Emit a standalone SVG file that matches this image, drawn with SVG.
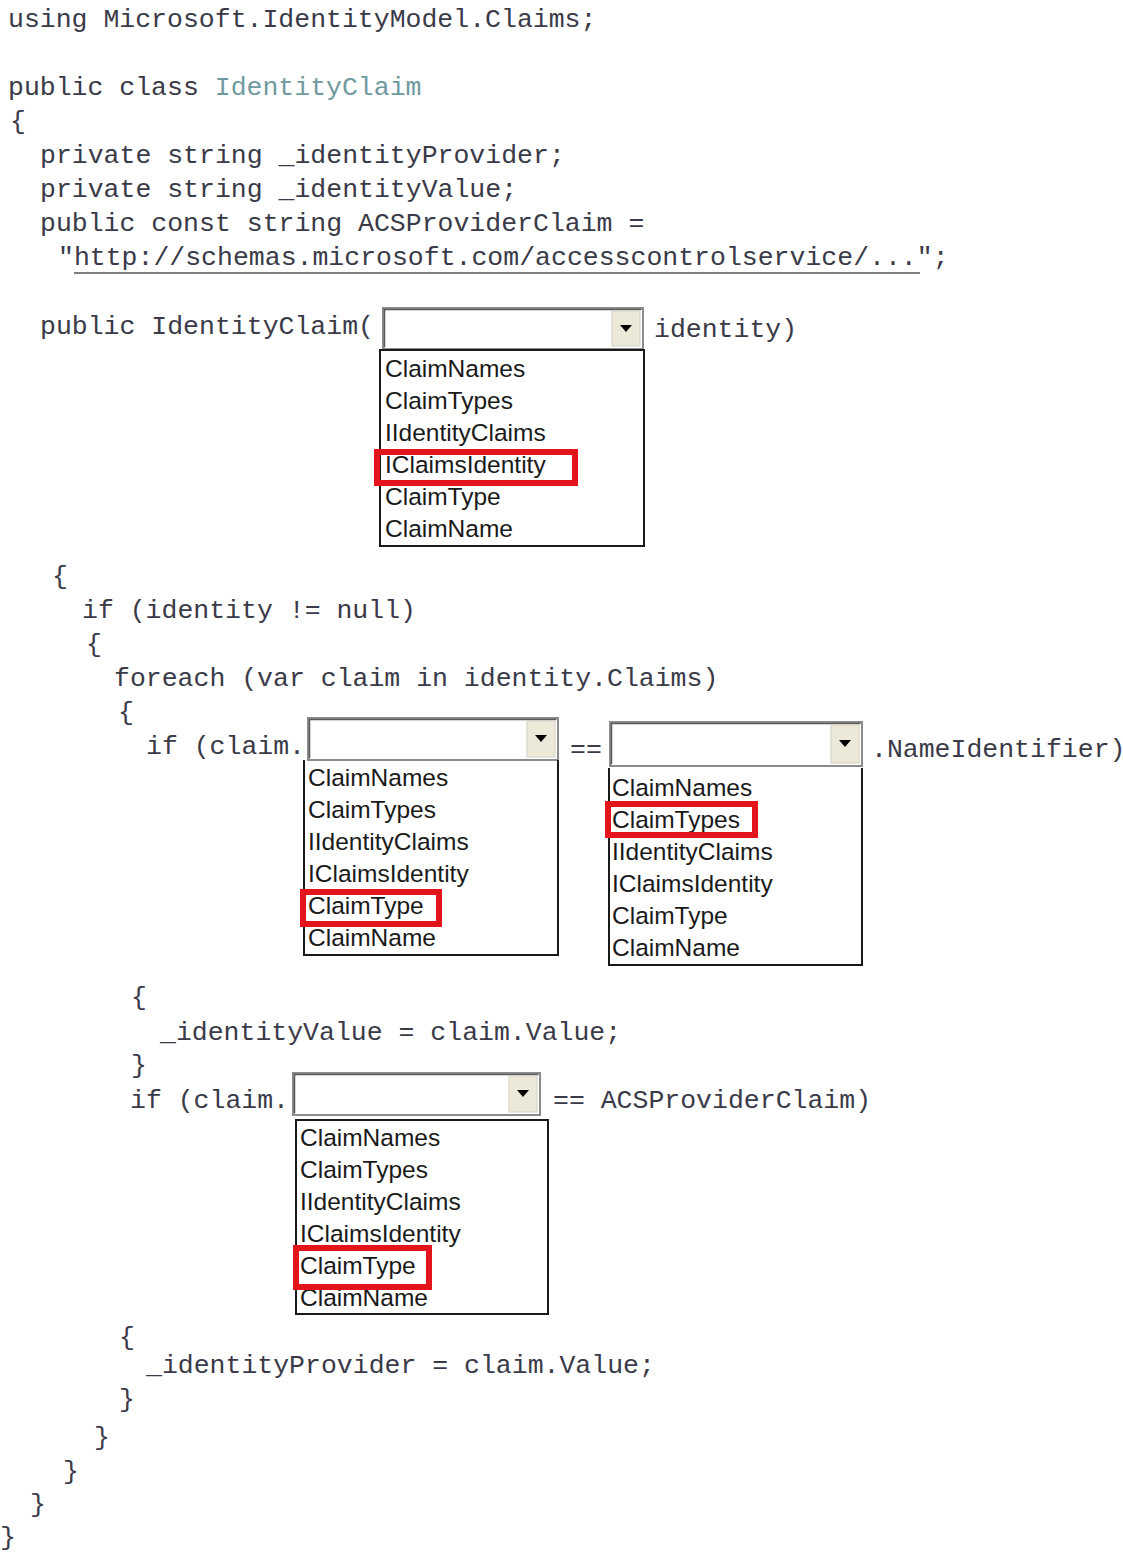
<svg xmlns="http://www.w3.org/2000/svg" width="1123" height="1553" viewBox="0 0 1123 1553">
<style>
.code{font-family:"Liberation Mono","Courier New",monospace;font-size:26.5px;fill:#3a3a48;}
.cls{fill:#6f9aa0;}
.item{font-family:"Liberation Sans",Arial,sans-serif;font-size:24.5px;fill:#1a1a1a;}
.list{fill:#fff;stroke:#1a1a1a;stroke-width:2;}
.listopen{fill:none;stroke:#1a1a1a;stroke-width:2;}
.ddbox{fill:#fff;stroke:#8c8c8c;stroke-width:2;}
.ddhi{fill:none;stroke:#5a5a5a;stroke-width:1.5;}
.btn{fill:#ece9d8;stroke:#d4d0c8;stroke-width:1;}
.tri{fill:#000;}
.hl{fill:none;stroke:#e3141c;stroke-width:6;}
</style>
<defs>
<polygon id="arrow" points="-6,-3 6,-3 0,4"/>
</defs>
<rect width="1123" height="1553" fill="#fff"/>

<g id="code">
<text class="code" x="8" y="27">using Microsoft.IdentityModel.Claims;</text>
<text class="code" x="8" y="95">public class <tspan class="cls">IdentityClaim</tspan></text>
<text class="code" x="10" y="129">{</text>
<text class="code" x="40" y="163">private string _identityProvider;</text>
<text class="code" x="40" y="197">private string _identityValue;</text>
<text class="code" x="40" y="231">public const string ACSProviderClaim =</text>
<text class="code" x="58" y="265">"http://schemas.microsoft.com/accesscontrolservice/...";</text>
<line x1="74" y1="273" x2="920" y2="273" stroke="#555" stroke-width="1.5"/>
<text class="code" x="40" y="334">public IdentityClaim(</text>
<text class="code" x="654" y="337">identity)</text>
<text class="code" x="52" y="584">{</text>
<text class="code" x="82" y="618">if (identity != null)</text>
<text class="code" x="86" y="652">{</text>
<text class="code" x="114" y="686">foreach (var claim in identity.Claims)</text>
<text class="code" x="118" y="720">{</text>
<text class="code" x="146" y="754">if (claim.</text>
<text class="code" x="570" y="757">==</text>
<text class="code" x="871" y="757">.NameIdentifier)</text>
<text class="code" x="131" y="1005">{</text>
<text class="code" x="160" y="1040">_identityValue = claim.Value;</text>
<text class="code" x="131" y="1073">}</text>
<text class="code" x="130" y="1108">if (claim.</text>
<text class="code" x="553" y="1108">== ACSProviderClaim)</text>
<text class="code" x="119" y="1345">{</text>
<text class="code" x="146" y="1373">_identityProvider = claim.Value;</text>
<text class="code" x="119" y="1407">}</text>
<text class="code" x="94" y="1445">}</text>
<text class="code" x="63" y="1479">}</text>
<text class="code" x="30" y="1512">}</text>
<text class="code" x="0" y="1545">}</text>
</g>

<g id="dropdown1">
<rect class="ddbox" x="383" y="308" width="260" height="41"/>
<path class="ddhi" d="M384.5,347.5 V309.5 H641.5"/>
<rect class="btn" x="612" y="311" width="28" height="35"/>
<use href="#arrow" class="tri" x="626" y="328"/>
<rect class="list" x="380" y="350" width="264" height="196"/>
<text class="item" x="385" y="377">ClaimNames</text>
<text class="item" x="385" y="409">ClaimTypes</text>
<text class="item" x="385" y="441">IIdentityClaims</text>
<text class="item" x="385" y="473">IClaimsIdentity</text>
<text class="item" x="385" y="505">ClaimType</text>
<text class="item" x="385" y="537">ClaimName</text>
<rect class="hl" x="377" y="452" width="198" height="31"/>
</g>

<g id="dropdown2">
<rect class="ddbox" x="308" y="718" width="250" height="42"/>
<path class="ddhi" d="M309.5,758.5 V719.5 H556.5"/>
<rect class="btn" x="527" y="721" width="28" height="36"/>
<use href="#arrow" class="tri" x="541" y="738"/>
<path class="listopen" d="M304,760 V955 H558 V760"/>
<text class="item" x="308" y="786">ClaimNames</text>
<text class="item" x="308" y="818">ClaimTypes</text>
<text class="item" x="308" y="850">IIdentityClaims</text>
<text class="item" x="308" y="882">IClaimsIdentity</text>
<text class="item" x="308" y="914">ClaimType</text>
<text class="item" x="308" y="946">ClaimName</text>
<rect class="hl" x="303" y="892" width="136" height="32"/>
</g>

<g id="dropdown3">
<rect class="ddbox" x="610" y="722" width="252" height="44"/>
<path class="ddhi" d="M611.5,764.5 V723.5 H860.5"/>
<rect class="btn" x="831" y="725" width="28" height="38"/>
<use href="#arrow" class="tri" x="845" y="743"/>
<path class="listopen" d="M609,768 V965 H862 V768"/>
<text class="item" x="612" y="796">ClaimNames</text>
<text class="item" x="612" y="828">ClaimTypes</text>
<text class="item" x="612" y="860">IIdentityClaims</text>
<text class="item" x="612" y="892">IClaimsIdentity</text>
<text class="item" x="612" y="924">ClaimType</text>
<text class="item" x="612" y="956">ClaimName</text>
<rect class="hl" x="608" y="804" width="147" height="31"/>
</g>

<g id="dropdown4">
<rect class="ddbox" x="293" y="1073" width="247" height="42"/>
<path class="ddhi" d="M294.5,1113.5 V1074.5 H538.5"/>
<rect class="btn" x="509" y="1076" width="28" height="36"/>
<use href="#arrow" class="tri" x="523" y="1093"/>
<rect class="list" x="296" y="1120" width="252" height="194"/>
<text class="item" x="300" y="1146">ClaimNames</text>
<text class="item" x="300" y="1178">ClaimTypes</text>
<text class="item" x="300" y="1210">IIdentityClaims</text>
<text class="item" x="300" y="1242">IClaimsIdentity</text>
<text class="item" x="300" y="1274">ClaimType</text>
<text class="item" x="300" y="1306">ClaimName</text>
<rect class="hl" x="296" y="1248" width="133" height="39"/>
</g>
</svg>
